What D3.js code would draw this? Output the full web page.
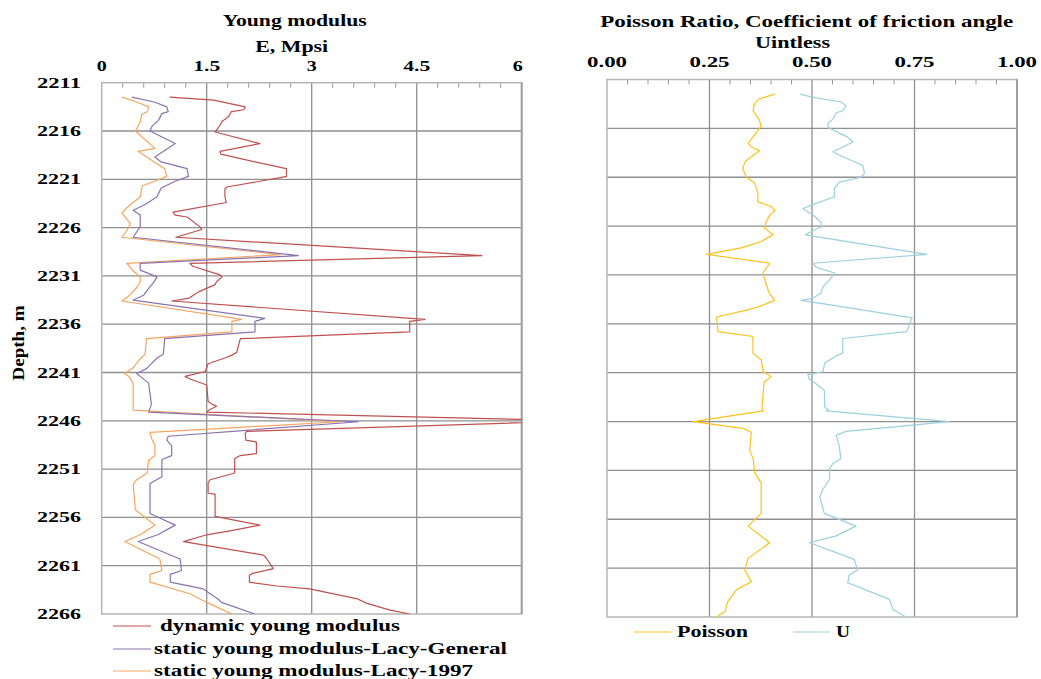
<!DOCTYPE html>
<meta charset="utf-8">
<style>
body { margin: 0; background: #fff; }
.lbl { font-family: "Liberation Serif", "Times New Roman", serif; font-weight: bold; fill: #000; }
.grid { stroke: #8f8f8f; stroke-width: 1.3; }
.frame { stroke: #b5b5b5; stroke-width: 1.5; fill: none; }
.tick { stroke: #999; stroke-width: 1; }
.curve { fill: none; stroke-width: 1.2; stroke-linejoin: round; }
</style>
<svg id="thevis" width="1041" height="679"></svg>
<script src="https://cdn.jsdelivr.net/npm/d3@7/dist/d3.min.js"></script>
<script>

// depth labels (m) and top axis ticks
var depthTicks = [2211, 2216, 2221, 2226, 2231, 2236, 2241, 2246, 2251, 2256, 2261, 2266];
var eTicks = [0, 1.5, 3, 4.5, 6];
var nuTicks = [0, 0.25, 0.5, 0.75, 1.0];

// [depth, E Mpsi]
var dynamicE = [
  [2212.5,0.97],[2212.8,1.6],[2213.5,2.05],[2213.8,2.03],[2214.0,1.85],[2214.3,1.83],[2214.6,1.80],
  [2215.0,1.72],[2215.3,1.70],[2215.9,1.64],[2216.1,1.62],[2217.3,2.26],[2218.1,1.69],[2218.4,1.70],
  [2219.8,2.57],[2219.9,2.64],[2220.7,2.64],[2220.8,2.57],[2221.8,1.79],[2222.0,1.76],[2222.8,1.76],
  [2223.4,1.78],[2224.4,1.02],[2224.7,1.05],[2224.9,1.22],[2225.9,1.40],[2226.2,1.43],[2227.0,1.06],
  [2228.9,5.43],[2229.7,1.26],[2230.0,1.30],[2230.9,1.69],[2231.1,1.72],[2231.6,1.64],[2231.9,1.62],
  [2232.6,1.40],[2232.9,1.33],[2233.3,1.25],[2233.6,1.00],[2235.5,4.62],[2235.7,4.40],[2236.8,4.40],
  [2237.5,1.98],[2238.9,1.93],[2239.2,1.86],[2239.5,1.76],[2240.1,1.52],[2240.9,1.48],[2241.4,1.19],
  [2241.7,1.27],[2242.3,1.50],[2244.0,1.52],[2244.3,1.58],[2244.5,1.64],[2244.9,1.53],[2245.1,1.50],
  [2246.0,6.85],[2247.1,2.07],[2247.3,2.05],[2248.0,2.06],[2248.2,2.21],[2249.4,2.21],[2249.6,1.98],
  [2249.9,1.90],[2251.4,1.90],[2252.1,1.55],[2252.4,1.52],[2253.5,1.52],[2253.6,1.62],[2255.9,1.62],
  [2256.8,2.26],[2257.4,1.83],[2257.8,1.50],[2258.5,1.17],[2259.9,2.31],[2260.2,2.35],[2261.3,2.45],
  [2261.8,2.15],[2262.0,2.11],[2262.7,2.11],[2263.1,2.50],[2263.4,2.97],[2264.4,3.64],[2264.9,3.79],
  [2265.6,4.12],[2266.0,4.40]
];
var lacyGeneral = [
  [2212.5,0.43],[2213.0,0.75],[2213.5,0.93],[2214.0,0.95],[2214.2,0.86],[2214.9,0.81],[2215.5,0.72],
  [2216.0,0.69],[2217.3,1.05],[2218.7,0.76],[2219.2,0.85],[2219.9,1.22],[2220.7,1.24],[2221.2,1.05],
  [2221.9,0.85],[2222.8,0.79],[2223.6,0.62],[2224.2,0.45],[2224.7,0.55],[2225.9,0.55],[2227.0,0.45],
  [2228.9,2.81],[2229.7,0.55],[2230.4,0.55],[2231.1,0.79],[2231.7,0.74],[2232.3,0.67],[2233.0,0.60],
  [2233.5,0.45],[2235.4,2.33],[2235.7,2.19],[2236.8,2.19],[2237.5,0.90],[2239.1,0.88],[2239.5,0.79],
  [2240.6,0.64],[2241.1,0.50],[2241.4,0.55],[2242.1,0.67],[2244.3,0.71],[2245.1,0.67],[2246.1,3.67],
  [2247.6,0.95],[2248.0,0.93],[2248.6,1.00],[2249.6,1.00],[2250.0,0.86],[2251.8,0.86],[2252.5,0.69],
  [2255.6,0.69],[2256.8,1.05],[2257.8,0.80],[2258.5,0.52],[2260.3,1.12],[2261.5,1.14],[2261.9,0.98],
  [2262.7,0.98],[2263.4,1.45],[2264.5,1.67],[2264.8,1.71],[2266.0,2.19]
];
var lacy1997 = [
  [2212.5,0.29],[2213.0,0.50],[2213.5,0.67],[2214.0,0.65],[2214.3,0.57],[2215.1,0.55],[2216.0,0.48],
  [2217.8,0.76],[2218.1,0.52],[2218.6,0.62],[2219.9,0.90],[2220.7,0.93],[2221.1,0.79],[2221.7,0.58],
  [2222.8,0.55],[2224.0,0.35],[2224.5,0.29],[2225.6,0.41],[2226.3,0.36],[2227.0,0.29],[2228.8,2.55],
  [2229.7,0.36],[2230.5,0.45],[2231.1,0.55],[2231.6,0.55],[2232.2,0.50],[2233.0,0.40],[2233.6,0.29],
  [2235.5,2.00],[2235.7,1.86],[2236.8,1.86],[2237.5,0.64],[2239.1,0.62],[2239.6,0.55],[2240.5,0.45],
  [2241.1,0.33],[2241.5,0.40],[2242.2,0.45],[2244.9,0.45],[2246.1,3.40],[2247.2,0.69],[2247.8,0.71],
  [2248.5,0.76],[2249.6,0.76],[2250.1,0.67],[2251.4,0.65],[2252.1,0.50],[2252.6,0.45],[2255.2,0.48],
  [2256.8,0.76],[2257.8,0.55],[2258.5,0.33],[2260.3,0.83],[2261.5,0.86],[2261.9,0.69],[2262.7,0.69],
  [2263.9,1.26],[2264.8,1.50],[2266.0,1.86]
];

// [depth, unitless]
var poisson = [
  [2212.5,0.409],[2213.0,0.370],[2213.5,0.360],[2214.1,0.356],[2214.6,0.362],[2215.0,0.370],[2215.5,0.374],
  [2215.8,0.376],[2216.9,0.356],[2217.5,0.344],[2217.9,0.352],[2218.3,0.372],[2218.8,0.355],[2219.4,0.337],
  [2220.1,0.331],[2221.0,0.340],[2221.6,0.360],[2222.6,0.368],[2223.5,0.368],[2224.0,0.400],[2224.4,0.410],
  [2224.8,0.398],[2225.6,0.388],[2226.2,0.384],[2226.9,0.405],[2227.6,0.375],[2228.2,0.330],[2228.9,0.243],
  [2229.8,0.397],[2230.8,0.380],[2231.5,0.385],[2232.8,0.395],[2233.6,0.409],[2234.3,0.366],[2234.6,0.340],
  [2235.3,0.267],[2236.8,0.271],[2237.3,0.356],[2239.0,0.356],[2239.7,0.376],[2240.9,0.381],[2241.4,0.400],
  [2242.0,0.383],[2244.6,0.378],[2244.9,0.381],[2246.0,0.210],[2246.7,0.332],[2247.1,0.352],[2248.9,0.348],
  [2249.9,0.357],[2251.2,0.360],[2252.3,0.376],[2255.4,0.376],[2256.7,0.344],[2258.4,0.397],[2260.0,0.344],
  [2261.2,0.336],[2262.4,0.352],[2263.2,0.316],[2264.4,0.295],[2265.4,0.288],[2266.0,0.267]
];
var uCoef = [
  [2212.5,0.471],[2212.8,0.500],[2213.3,0.571],[2213.7,0.583],[2214.2,0.575],[2214.4,0.559],[2215.0,0.552],
  [2215.5,0.539],[2215.9,0.539],[2216.9,0.587],[2217.4,0.600],[2218.4,0.551],[2218.9,0.575],[2219.8,0.624],
  [2220.6,0.628],[2221.0,0.619],[2221.5,0.567],[2222.1,0.555],[2223.0,0.555],[2223.8,0.502],[2224.2,0.478],
  [2224.7,0.496],[2225.0,0.506],[2225.6,0.522],[2226.1,0.522],[2226.5,0.500],[2226.9,0.484],[2228.9,0.780],
  [2229.8,0.502],[2230.2,0.510],[2230.8,0.555],[2231.5,0.543],[2232.2,0.527],[2232.9,0.521],[2233.4,0.500],
  [2233.6,0.474],[2234.3,0.580],[2235.4,0.744],[2236.8,0.731],[2237.5,0.575],[2239.0,0.575],[2239.2,0.563],
  [2240.0,0.531],[2240.9,0.527],[2241.2,0.490],[2241.7,0.494],[2242.0,0.506],[2242.8,0.530],[2244.5,0.531],
  [2244.8,0.540],[2244.9,0.535],[2246.0,0.835],[2247.0,0.583],[2247.4,0.559],[2248.6,0.567],[2249.8,0.570],
  [2250.3,0.551],[2250.8,0.543],[2251.9,0.543],[2252.9,0.527],[2253.7,0.519],[2255.4,0.530],[2256.7,0.607],
  [2257.7,0.559],[2258.4,0.494],[2260.1,0.603],[2261.2,0.611],[2261.7,0.591],[2262.5,0.587],[2263.5,0.648],
  [2264.2,0.689],[2265.2,0.697],[2266.0,0.729]
];

var svg = d3.select("#thevis");

var xE = d3.scaleLinear().domain([0, 6]).range([101.7, 521.7]);
var yL = d3.scaleLinear().domain([2211, 2266]).range([82.7, 614]);
var xN = d3.scaleLinear().domain([0, 1]).range([607, 1017]);
var yR = d3.scaleLinear().domain([2211, 2266]).range([79.5, 617]);

// text helper, widths stretched like the source image
function label(x, y, str, size, width, anchor) {
  return svg.append("text")
    .attr("class", "lbl")
    .attr("x", x).attr("y", y)
    .attr("text-anchor", anchor || "middle")
    .attr("textLength", width)
    .attr("lengthAdjust", "spacingAndGlyphs")
    .style("font-size", size + "px")
    .text(str);
}

function panel(x, y, ticks, minorStep, clipId) {
  var x0 = x.range()[0], x1 = x.range()[1], y0 = y.range()[0], y1 = y.range()[1];
  var g = svg.append("g");

  svg.append("clipPath").attr("id", clipId)
    .append("rect").attr("x", x0).attr("y", y0).attr("width", x1 - x0).attr("height", y1 - y0);

  // horizontal grid every 5 m
  g.selectAll(".hg").data(depthTicks.slice(1, -1)).enter().append("line")
    .attr("class", "grid")
    .attr("x1", x0).attr("x2", x1)
    .attr("y1", function(d) { return y(d); }).attr("y2", function(d) { return y(d); });

  // vertical grid
  g.selectAll(".vg").data(ticks.slice(1, -1)).enter().append("line")
    .attr("class", "grid")
    .attr("y1", y0).attr("y2", y1)
    .attr("x1", function(d) { return x(d); }).attr("x2", function(d) { return x(d); });

  // minor ticks along the top
  var minor = d3.range(x.domain()[0], x.domain()[1] + 1e-9, minorStep).filter(function(v) {
    return !ticks.some(function(t) { return Math.abs(t - v) < 1e-6; });
  });
  g.selectAll(".mt").data(minor).enter().append("line")
    .attr("class", "tick")
    .attr("y1", y0).attr("y2", y0 + 5)
    .attr("x1", function(d) { return x(d); }).attr("x2", function(d) { return x(d); });

  g.append("rect").attr("class", "frame")
    .attr("x", x0).attr("y", y0).attr("width", x1 - x0).attr("height", y1 - y0);
  g.append("line").attr("class", "grid").style("stroke", "#a0a0a0").style("stroke-width", 2)
    .attr("x1", x1).attr("x2", x1).attr("y1", y0).attr("y2", y1);
  return g;
}

panel(xE, yL, eTicks, 0.3, "clipL");
panel(xN, yR, nuTicks, 0.05, "clipR");

function curve(data, x, y, color, clipId) {
  var line = d3.line()
    .x(function(d) { return x(d[1]); })
    .y(function(d) { return y(d[0]); });
  svg.append("path")
    .datum(data)
    .attr("class", "curve")
    .attr("clip-path", "url(#" + clipId + ")")
    .attr("stroke", color)
    .attr("d", line);
}

curve(lacy1997, xE, yL, "#f7a45e", "clipL");
curve(lacyGeneral, xE, yL, "#8a72b0", "clipL");
curve(dynamicE, xE, yL, "#c0504d", "clipL");
curve(poisson, xN, yR, "#ffc21a", "clipR");
curve(uCoef, xN, yR, "#9ccfe0", "clipR");

// titles
label(294.7, 26, "Young  modulus", 16, 144);
label(291.7, 52, "E, Mpsi", 16, 73);
label(806.7, 27, "Poisson Ratio, Coefficient of friction angle", 16, 413);
label(792.5, 48, "Uintless", 16, 75);

// top tick labels
var eFmt = function(d) { return String(d); };
svg.selectAll(".et").data(eTicks).enter().append("text")
  .attr("class", "lbl")
  .attr("x", function(d) { return xE(d) - (d === 6 ? 4 : 0); })
  .attr("y", 71)
  .attr("text-anchor", "middle")
  .attr("textLength", function(d) { return eFmt(d).length > 1 ? 27 : 10; })
  .attr("lengthAdjust", "spacingAndGlyphs")
  .style("font-size", "15px")
  .text(eFmt);

svg.selectAll(".nt").data(nuTicks).enter().append("text")
  .attr("class", "lbl")
  .attr("x", function(d) { return xN(d); })
  .attr("y", 67)
  .attr("text-anchor", "middle")
  .attr("textLength", 40)
  .attr("lengthAdjust", "spacingAndGlyphs")
  .style("font-size", "15px")
  .text(function(d) { return d3.format(".2f")(d); });

// depth labels
svg.selectAll(".dt").data(depthTicks).enter().append("text")
  .attr("class", "lbl")
  .attr("x", 81)
  .attr("y", function(d) { return yL(d) + 5; })
  .attr("text-anchor", "end")
  .attr("textLength", 44)
  .attr("lengthAdjust", "spacingAndGlyphs")
  .style("font-size", "15px")
  .text(function(d) { return d; });

svg.append("text")
  .attr("class", "lbl")
  .attr("transform", "translate(24,343) rotate(-90)")
  .attr("text-anchor", "middle")
  .attr("textLength", 75)
  .attr("lengthAdjust", "spacingAndGlyphs")
  .style("font-size", "16px")
  .text("Depth, m");

// legends
var legLeft = [
  { name: "dynamic young modulus", color: "#c0504d", tx: 160, w: 240, y: 626 },
  { name: "static young modulus-Lacy-General", color: "#8a72b0", tx: 154, w: 353, y: 649 },
  { name: "static young modulus-Lacy-1997", color: "#f7a45e", tx: 154, w: 319, y: 671 }
];
var legRight = [
  { name: "Poisson", color: "#ffc21a", lx: 634, tx: 677, w: 71, y: 632 },
  { name: "U", color: "#9ccfe0", lx: 793, tx: 836, w: 14, y: 632 }
];

legLeft.forEach(function(d) {
  svg.append("line").attr("x1", 113).attr("x2", 151).attr("y1", d.y).attr("y2", d.y)
    .attr("stroke", d.color).attr("stroke-width", 1.2);
  label(d.tx, d.y + 5, d.name, 16, d.w, "start");
});
legRight.forEach(function(d) {
  svg.append("line").attr("x1", d.lx).attr("x2", d.lx + 37).attr("y1", d.y).attr("y2", d.y)
    .attr("stroke", d.color).attr("stroke-width", 1.2);
  label(d.tx, d.y + 5, d.name, 16, d.w, "start");
});

</script>
